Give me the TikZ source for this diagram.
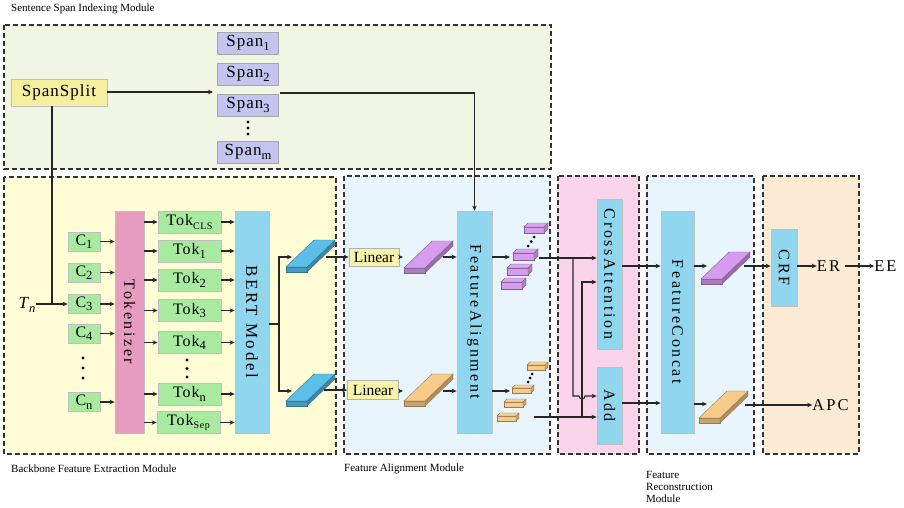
\documentclass[tikz,border=0pt]{standalone}
\usepackage{fontspec}
\setmainfont{Liberation Serif}
\newfontfamily\lblfont{Liberation Serif}[LetterSpace=6]
\newfontfamily\wfont{Liberation Serif}[LetterSpace=12]
\newfontfamily\vfont{Liberation Serif}[LetterSpace=16]
\usetikzlibrary{arrows.meta}

\definecolor{topfill}{HTML}{F1F5E3}
\definecolor{bbfill}{HTML}{FFFDD6}
\definecolor{fafill}{HTML}{E8F5FC}
\definecolor{pkfill}{HTML}{FAD4EA}
\definecolor{orfill}{HTML}{FCEBD4}
\definecolor{ssfill}{HTML}{F5EFA0}
\definecolor{spfill}{HTML}{C4C4F0}
\definecolor{gfill}{HTML}{A8EBA0}
\definecolor{tkfill}{HTML}{E79BC0}
\definecolor{bfill}{HTML}{8FD6EE}
\definecolor{lnfill}{HTML}{F7F3A8}
\definecolor{slblue}{HTML}{5BBFEA}
\definecolor{slpurp}{HTML}{D79CEF}
\definecolor{slorng}{HTML}{F9CB88}

% subscripts set a little lower and smaller
\newcommand{\sbs}[1]{\raisebox{-0.22em}{\fontsize{12.5}{12}\selectfont #1}}
\newcommand{\sbsm}[1]{\raisebox{-0.22em}{\fontsize{10}{10}\selectfont #1}}

% flat slanted slab: #1,#2 = lower-left corner of the front face, #3 = colour
\newcommand{\slab}[3]{%
  \filldraw[draw=#3!60!black, line width=0.4pt, fill=#3!80!black]
    (#1,#2) -- ++(21,0) -- ++(0,-5) -- ++(-21,0) -- cycle;
  \filldraw[draw=#3!60!black, line width=0.4pt, fill=#3!70!black]
    (#1+21,#2) -- ++(0,-5) -- ++(28,-27) -- ++(0,5) -- cycle;
  \filldraw[draw=#3!60!black, line width=0.4pt, fill=#3]
    (#1,#2-5) -- ++(21,0) -- ++(28,-27) -- ++(-21,0) -- cycle;}

% small block: #1,#2 = lower-left of front face, #3 = colour, #4 w, #5 h, #6 depth
\newcommand{\cube}[6]{%
  \filldraw[draw=#3!60!black, line width=0.4pt, fill=#3]
    (#1,#2) -- ++(#4,0) -- ++(0,-#5) -- ++(-#4,0) -- cycle;
  \filldraw[draw=#3!60!black, line width=0.4pt, fill=#3!80!black]
    (#1+#4,#2) -- ++(0,-#5) -- ++(#6,-#6) -- ++(0,#5) -- cycle;
  \filldraw[draw=#3!60!black, line width=0.4pt, fill=#3!90!white]
    (#1,#2-#5) -- ++(#4,0) -- ++(#6,-#6) -- ++(-#4,0) -- cycle;}

\tikzset{
  modbox/.style={draw=black!80, dash pattern=on 5pt off 3pt, line width=1.3pt},
  modlabel/.style={font=\fontsize{11}{12}\selectfont, inner sep=0pt, anchor=west},
  blk/.style={rectangle, inner sep=0pt, line width=0.8pt,
    font=\lblfont\fontsize{16}{16}\selectfont},
  spanbox/.style={blk, fill=spfill, draw=black!35, minimum width=61pt, minimum height=22pt,
    font=\lblfont\fontsize{17}{17}\selectfont},
  cbox/.style={blk, fill=gfill, draw=black!25, minimum width=32pt, minimum height=19pt},
  tokbox/.style={blk, fill=gfill, draw=black!25, minimum width=63pt, minimum height=22pt},
  tall/.style={blk, draw=black!25, minimum height=222pt},
  linbox/.style={blk, fill=lnfill, draw=black!30, minimum width=50pt, minimum height=18pt,
    font=\fontsize{15.5}{16}\selectfont},
  outlbl/.style={inner sep=0pt, font=\wfont\fontsize{16.5}{17}\selectfont},
  arr/.style={->, line width=1.1pt, draw=black!85},
  ln/.style={line width=1.1pt, draw=black!85},
  dot/.style={fill=black, draw=none, circle, inner sep=0pt, minimum size=3.2pt},
  >={Stealth[length=5pt,width=4.5pt]}
}

\begin{document}
\begin{tikzpicture}[x=1pt,y=-1pt]
\useasboundingbox[fill=white] (0,0) rectangle (904,508);

% module frames
\draw[modbox, fill=topfill] (4,25) rectangle (551,169);
\draw[modbox, fill=bbfill] (4,177) rectangle (336,454);
\draw[modbox, fill=fafill] (344,176) rectangle (550,454);
\draw[modbox, fill=pkfill] (558,176) rectangle (639,454);
\draw[modbox, fill=fafill] (647,176) rectangle (754,454);
\draw[modbox, fill=orfill] (763,176) rectangle (859,454);

% module captions
\node[modlabel] (capA) at (11,9) {Sentence Span Indexing Module};
\node[modlabel] (capB) at (11,469) {Backbone Feature Extraction Module};
\node[modlabel] (capC) at (344,469) {Feature Alignment Module};
\node[modlabel, anchor=north west, align=left, font=\fontsize{11}{12}\selectfont]
  (capD) at (646,471) {Feature\\Reconstruction\\Module};

% sentence span indexing
\node[blk, fill=ssfill, draw=black!25, minimum width=96pt, minimum height=27pt,
  font=\lblfont\fontsize{17}{17}\selectfont] (split) at (59,92.5) {SpanSplit};
\node[spanbox] (span1) at (248,43) {Span\sbs{1}};
\node[spanbox] (span2) at (248,74) {Span\sbs{2}};
\node[spanbox] (span3) at (248,105) {Span\sbs{3}};
\node[spanbox] (spanm) at (248,152) {Span\sbs{m}};
\node[dot] (sd1) at (248,122) {};
\node[dot] (sd2) at (248,128) {};
\node[dot] (sd3) at (248,134) {};
\coordinate (spanin) at (213,92);
\draw[arr] (split.east |- spanin) -- (spanin);

% characters and tokenizer
\node[inner sep=0pt, font=\fontsize{17}{17}\selectfont] (tn) at (27,305) {\textit{T}\sbs{\textit{n}}};
\node[cbox] (c1) at (84,241.5) {C\sbs{1}};
\node[cbox] (c2) at (84,272.5) {C\sbs{2}};
\node[cbox] (c3) at (84,304) {C\sbs{3}};
\node[cbox] (c4) at (84,333.5) {C\sbs{4}};
\node[cbox] (cn) at (84,402) {C\sbs{n}};
\node[dot] (cd1) at (83,358) {};
\node[dot] (cd2) at (83,368) {};
\node[dot] (cd3) at (83,378) {};
\coordinate (join) at (52,304);
\draw[ln] (split.south -| join) -- (join);
\draw[arr] (tn.east |- c3) -- (c3.west);

\node[tall, fill=tkfill, minimum width=29pt] (tokz) at (129.5,322)
  {\rotatebox{-90}{\vfont\fontsize{16}{16}\selectfont Tokenizer}};
\foreach \c in {c1,c2,c3,c4,cn} \draw[arr] (\c.east) -- (tokz.west |- \c);

\node[tokbox] (tcls) at (189.5,222) {Tok\sbsm{CLS}};
\node[tokbox] (t1) at (189.5,251) {Tok\sbs{1}};
\node[tokbox] (t2) at (189.5,280) {Tok\sbs{2}};
\node[tokbox] (t3) at (189.5,310.5) {Tok\sbs{3}};
\node[tokbox] (t4) at (189.5,342.5) {Tok\sbs{4}};
\node[tokbox] (tn2) at (189.5,394) {Tok\sbs{n}};
\node[tokbox] (tsep) at (188.5,422.5) {Tok\sbsm{Sep}};
\node[dot] (td1) at (187,360) {};
\node[dot] (td2) at (187,368.5) {};
\node[dot] (td3) at (187,377) {};

\node[tall, fill=bfill, minimum width=34pt] (bert) at (252,322)
  {\rotatebox{-90}{\vfont\fontsize{17}{17}\selectfont BERT Model}};
\foreach \t in {tcls,t1,t2,t3,t4,tn2,tsep} {
  \draw[arr] (tokz.east |- \t) -- (\t.west);
  \draw[arr] (\t.east) -- (bert.west |- \t);
}

% BERT output split into two streams
\coordinate (bo) at (279,324);
\coordinate (bup) at (292,257);
\coordinate (bdn) at (292,391);
\draw[ln] (bert.east |- bo) -- (bo);
\draw[arr] (bo) |- (bup);
\draw[arr] (bo) |- (bdn);
\slab{286}{272}{slblue}
\slab{286}{406}{slblue}

% feature alignment
\node[linbox] (lin1) at (374,257) {Linear};
\node[linbox, minimum width=51pt, minimum height=19pt] (lin2) at (373,390) {Linear};
\coordinate (bs1) at (326,257);
\coordinate (bs2) at (324,390);
\draw[arr] (bs1) -- (lin1.west);
\draw[arr] (bs2) -- (lin2.west);
\slab{404}{273}{slpurp}
\slab{404}{406}{slorng}
\coordinate (ps1) at (403,257);
\coordinate (ps2) at (403,391);
\draw[arr] (lin1.east) -- (ps1);
\draw[arr] (lin2.east |- ps2) -- (ps2);

\node[tall, fill=bfill, minimum width=35pt] (fa) at (474.5,322)
  {\rotatebox{-90}{\vfont\fontsize{16}{16}\selectfont FeatureAlignment}};
\coordinate (pso1) at (443,257);
\coordinate (pso2) at (443,391);
\draw[arr] (pso1) -- (fa.west |- pso1);
\draw[arr] (pso2) -- (fa.west |- pso2);
\coordinate (s3o) at (280,93);
\draw[arr] (s3o) -| (fa.north);

\coordinate (fo1) at (510,257);
\coordinate (fo2) at (510,391);
\draw[arr] (fa.east |- fo1) -- (fo1);
\draw[arr] (fa.east |- fo2) -- (fo2);

% span-level features
\cube{524}{233}{slpurp}{20}{6}{4}
\cube{513}{260}{slpurp}{21}{7}{4}
\cube{507}{275}{slpurp}{21}{7}{4}
\cube{501}{289}{slpurp}{21}{7}{4}
\node[dot, minimum size=3pt] (pd1) at (534,237) {};
\node[dot, minimum size=3pt] (pd2) at (531,241.5) {};
\node[dot, minimum size=3pt] (pd3) at (528,246) {};
\cube{527}{370}{slorng}{18}{5}{3}
\cube{512}{393}{slorng}{19}{5}{3}
\cube{504}{407}{slorng}{19}{5}{3}
\cube{497}{421}{slorng}{19}{5}{3}
\node[dot, minimum size=3pt] (od1) at (532,374) {};
\node[dot, minimum size=3pt] (od2) at (530,378) {};
\node[dot, minimum size=3pt] (od3) at (528,382) {};

% cross attention and add
\node[blk, fill=bfill, draw=black!25, minimum width=25pt, minimum height=150pt] (ca) at (609.5,274)
  {\rotatebox{-90}{\vfont\fontsize{16}{16}\selectfont CrossAttention}};
\node[blk, fill=bfill, draw=black!25, minimum width=25pt, minimum height=77pt] (add) at (609.5,405.5)
  {\rotatebox{-90}{\vfont\fontsize{16}{16}\selectfont Add}};
\coordinate (pin) at (539,258);
\coordinate (oin) at (534,417);
\coordinate (brp) at (573,258);
\coordinate (bro) at (582,417);
\coordinate (hop) at (579,396);
\draw[arr] (pin) -- (ca.west |- pin);
% this branch hops over the vertical line that rises at x = 582
\draw[arr] (brp) |- (hop) arc[start angle=180, end angle=360, radius=3pt]
  -- (add.west |- hop);
\draw[arr] (oin) -- (add.west |- oin);
\draw[arr] (bro) |- (ca.west |- 0,282);

% feature reconstruction
\node[tall, fill=bfill, minimum width=33pt] (fc) at (677.5,322)
  {\rotatebox{-90}{\vfont\fontsize{16}{16}\selectfont FeatureConcat}};
\draw[arr] (ca.east |- 0,266) -- (fc.west |- 0,266);
\draw[arr] (add.east |- 0,403) -- (fc.west |- 0,403);
\coordinate (fr1) at (707,266);
\coordinate (fr2) at (707,404);
\draw[arr] (fc.east |- fr1) -- (fr1);
\draw[arr] (fc.east |- fr2) -- (fr2);
\slab{701}{284}{slpurp}
\slab{699}{423}{slorng}

% outputs
\node[blk, fill=bfill, draw=black!25, minimum width=26pt, minimum height=77pt] (crf) at (784,267.5)
  {\rotatebox{-90}{\vfont\fontsize{16}{16}\selectfont CRF}};
\node[outlbl] (er) at (828.5,266) {ER};
\node[outlbl] (ee) at (885.5,266) {EE};
\node[outlbl] (apc) at (830.5,405) {APC};
\coordinate (fs1) at (744,266);
\coordinate (fs2) at (745,405);
\draw[arr] (fs1) -- (crf.west |- fs1);
\draw[arr] (crf.east |- er) -- (er.west);
\draw[arr] (er.east) ++(5,0) -- (ee.west);
\draw[arr] (fs2) -- (apc.west);
\end{tikzpicture}
\end{document}
